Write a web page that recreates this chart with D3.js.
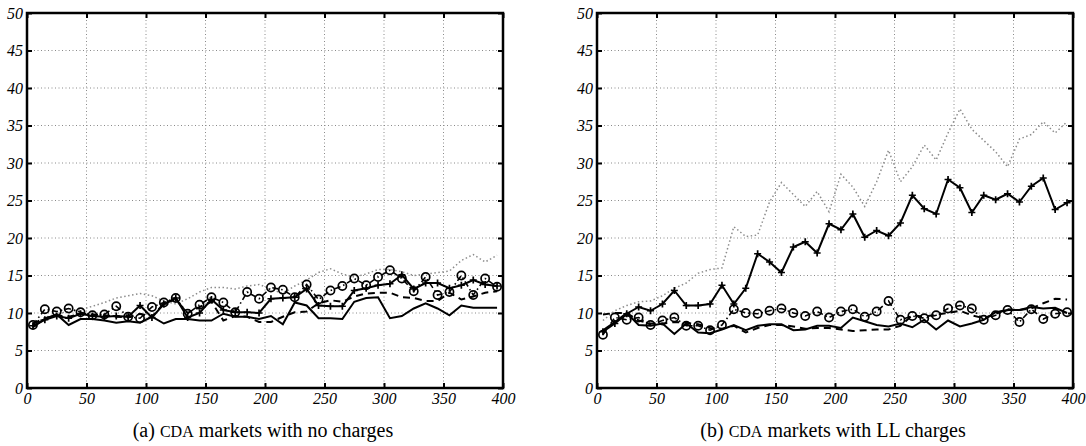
<!DOCTYPE html>
<html>
<head>
<meta charset="utf-8">
<script src="https://cdn.jsdelivr.net/npm/d3@7"></script>
<style>
  html, body { margin: 0; padding: 0; background: #fff; }
  svg { display: block; }
  svg text { font-family: "Liberation Serif", "Times New Roman", "DejaVu Serif", serif; }
  .tick text { font-style: italic; font-size: 16px; }
  .cap { font-size: 20px; }
  .cap .sc { font-size: 16px; }
</style>
</head>
<body>
<svg id="chart" width="1086" height="446"></svg>
<script>
// ---- data ----
const xValues = [5,15,25,35,45,55,65,75,85,95,105,115,125,135,145,155,165,175,185,195,
                 205,215,225,235,245,255,265,275,285,295,305,315,325,335,345,355,365,375,385,395];
const xTicks = [0,50,100,150,200,250,300,350,400];
const yTicks = [0,5,10,15,20,25,30,35,40,45,50];

// Panel (a): CDA markets with no charges
const aSolid  = [8.1,9.2,9.8,8.4,9.2,9.2,9.0,8.7,8.9,8.7,9.5,8.6,9.2,9.2,9.0,9.0,9.9,9.5,9.5,9.2,
                 9.6,8.5,11.4,11.0,9.3,9.3,9.2,11.5,12.0,12.1,9.3,9.6,10.6,11.3,10.6,9.7,11.0,10.7,10.7,10.7];
const aDashed = [8.6,9.3,9.7,9.5,9.9,9.8,9.7,9.5,9.4,9.9,9.5,11.3,11.8,10.0,10.8,11.5,9.0,9.6,9.5,8.8,
                 8.8,9.5,10.1,10.2,11.3,11.7,11.5,12.2,12.6,12.7,12.7,12.1,12.0,11.6,11.6,12.7,11.8,12.2,12.7,12.9];
const aDotted = [8.5,9.4,9.9,10.2,10.4,10.9,11.4,12.0,12.3,12.6,12.3,11.6,11.2,11.9,12.8,13.4,13.4,13.2,13.6,13.8,
                 13.2,12.6,13.6,14.4,15.4,15.9,15.2,14.8,15.2,15.8,15.8,15.5,15.0,15.2,15.4,15.6,17.0,17.8,16.8,17.7];
const aPlus   = [8.3,9.1,9.6,9.3,9.9,9.6,9.5,9.6,9.5,11.0,9.4,11.2,12.0,9.4,10.0,11.8,10.4,10.1,10.1,10.0,
                 11.9,12.0,12.1,13.2,11.0,10.9,10.9,13.0,13.3,13.7,13.9,15.1,13.2,14.0,14.0,13.3,13.7,14.4,13.8,13.6];
const aCircle = [8.4,10.5,10.2,10.6,10.1,9.7,9.8,10.9,9.5,9.3,10.8,11.4,12.0,9.9,11.1,12.1,11.4,10.1,12.8,11.9,
                 13.4,13.1,12.1,13.8,11.8,13.0,13.6,14.6,13.7,14.8,15.7,14.6,12.9,14.8,12.4,12.8,15.0,12.4,14.6,13.5];

// Panel (b): CDA markets with LL charges
const bSolid  = [7.7,8.8,10.0,8.4,8.3,8.6,7.2,8.6,7.4,7.3,7.8,8.4,7.7,8.3,8.5,8.5,7.7,7.8,8.3,8.3,
                 8.0,9.4,8.9,8.4,8.2,8.6,8.1,9.1,7.8,9.0,8.2,8.6,9.1,10.1,10.4,10.4,10.8,10.6,10.7,10.0];
const bDashed = [9.8,10.0,10.0,9.0,8.6,8.6,8.8,8.7,8.5,8.0,7.9,8.3,7.4,8.0,8.4,8.4,8.2,7.9,8.0,8.0,
                 7.8,7.6,7.7,7.8,7.8,8.3,9.7,9.5,9.8,10.0,10.3,9.7,9.3,9.9,10.5,10.4,10.6,11.3,11.9,11.8];
const bDotted = [9.0,10.3,11.0,11.5,11.6,12.3,13.3,14.0,15.3,15.8,16.0,21.5,20.2,20.4,24.8,27.4,25.8,24.2,26.2,23.5,
                 28.5,26.8,24.2,27.5,31.7,27.5,29.5,32.4,30.4,34.0,37.2,34.5,33.0,31.5,29.5,33.2,33.8,35.5,34.0,35.5];
const bPlus   = [7.5,8.6,9.9,10.8,10.3,11.2,13.0,11.0,11.0,11.2,13.7,11.2,13.3,17.9,16.8,15.4,18.8,19.5,18.0,21.9,
                 21.1,23.2,20.1,21.0,20.3,22.0,25.7,23.9,23.2,27.8,26.7,23.4,25.7,25.1,25.9,24.8,26.9,28.0,23.8,24.7];
const bCircle = [7.1,9.4,9.1,9.4,8.4,9.0,9.4,8.3,8.3,7.7,8.4,10.5,10.0,9.9,10.3,10.6,10.0,9.6,10.2,9.4,
                 10.2,10.5,9.5,10.2,11.6,9.1,9.6,9.3,9.7,10.6,11.0,10.6,9.1,9.7,10.4,8.8,10.5,9.2,9.9,10.1];

const panels = [
  { left: 27, caption: ["(a) ", "CDA", " markets with no charges"],
    series: { solid: aSolid, dashed: aDashed, dotted: aDotted, plus: aPlus, circle: aCircle } },
  { left: 597, caption: ["(b) ", "CDA", " markets with LL charges"],
    series: { solid: bSolid, dashed: bDashed, dotted: bDotted, plus: bPlus, circle: bCircle } }
];

const svg = d3.select("#chart");
const plotW = 476, plotTop = 13, plotBottom = 388;

panels.forEach(p => {
  const x = d3.scaleLinear().domain([0, 400]).range([p.left, p.left + plotW]);
  const y = d3.scaleLinear().domain([0, 50]).range([plotBottom, plotTop]);
  const g = svg.append("g");

  // grid
  g.append("g").selectAll("line").data(xTicks.slice(1, -1)).join("line")
    .attr("x1", d => x(d)).attr("x2", d => x(d)).attr("y1", plotTop).attr("y2", plotBottom)
    .attr("stroke", "#8a8a8a").attr("stroke-width", 1).attr("stroke-dasharray", "1,2.5");
  g.append("g").selectAll("line").data(yTicks.slice(1, -1)).join("line")
    .attr("y1", d => y(d)).attr("y2", d => y(d)).attr("x1", p.left).attr("x2", p.left + plotW)
    .attr("stroke", "#8a8a8a").attr("stroke-width", 1).attr("stroke-dasharray", "1,2.5");

  const line = d3.line().x((d, i) => x(xValues[i])).y(d => y(d));
  const s = p.series;

  g.append("path").datum(s.dotted).attr("d", line).attr("fill", "none")
    .attr("stroke", "#8c8c8c").attr("stroke-width", 1.5).attr("stroke-dasharray", "1.5,2.5");
  g.append("path").datum(s.solid).attr("d", line).attr("fill", "none")
    .attr("stroke", "#000").attr("stroke-width", 2);
  g.append("path").datum(s.dashed).attr("d", line).attr("fill", "none")
    .attr("stroke", "#000").attr("stroke-width", 2).attr("stroke-dasharray", "7,5");
  g.append("path").datum(s.plus).attr("d", line).attr("fill", "none")
    .attr("stroke", "#000").attr("stroke-width", 2);
  g.append("g").selectAll("path").data(s.plus).join("path")
    .attr("d", (d, i) => {
      const cx = x(xValues[i]), cy = y(d), r = 3.5;
      return `M${cx - r},${cy}H${cx + r}M${cx},${cy - r}V${cy + r}`;
    })
    .attr("stroke", "#000").attr("stroke-width", 1.7);
  g.append("path").datum(s.circle).attr("d", line).attr("fill", "none")
    .attr("stroke", "#000").attr("stroke-width", 1.6).attr("stroke-dasharray", "6,3,1.5,3");
  g.append("g").selectAll("circle").data(s.circle).join("circle")
    .attr("cx", (d, i) => x(xValues[i])).attr("cy", d => y(d)).attr("r", 4.1)
    .attr("fill", "none").attr("stroke", "#000").attr("stroke-width", 1.7);

  // axes (frame with inward ticks)
  const xb = d3.axisBottom(x).tickValues(xTicks).tickSize(-5).tickPadding(5).tickFormat(d3.format("d"));
  const xt = d3.axisTop(x).tickValues(xTicks).tickSize(-5).tickFormat("");
  const yl = d3.axisLeft(y).tickValues(yTicks).tickSize(-5).tickPadding(4).tickFormat(d3.format("d"));
  const yr = d3.axisRight(y).tickValues(yTicks).tickSize(-5).tickFormat("");

  const axStyle = sel => {
    sel.attr("font-family", null).attr("font-size", null);
    sel.selectAll(".domain").remove();
    sel.selectAll(".tick line").attr("stroke", "#000").attr("stroke-width", 2);
    sel.selectAll(".tick text").attr("fill", "#000");
  };
  g.append("g").attr("transform", `translate(0,${plotBottom})`).call(xb).call(axStyle);
  g.append("g").attr("transform", `translate(0,${plotTop})`).call(xt).call(axStyle);
  g.append("g").attr("transform", `translate(${p.left},0)`).call(yl).call(axStyle);
  g.append("g").attr("transform", `translate(${p.left + plotW},0)`).call(yr).call(axStyle);
  g.append("rect").attr("x", p.left).attr("y", plotTop).attr("width", plotW).attr("height", plotBottom - plotTop)
    .attr("fill", "none").attr("stroke", "#000").attr("stroke-width", 2.5);

  // caption
  const cap = g.append("text").attr("class", "cap").attr("x", p.left + plotW / 2 - 2).attr("y", 437)
    .attr("text-anchor", "middle").attr("fill", "#000");
  cap.append("tspan").text(p.caption[0]);
  cap.append("tspan").attr("class", "sc").text(p.caption[1]);
  cap.append("tspan").text(p.caption[2]);
});
</script>
</body>
</html>
